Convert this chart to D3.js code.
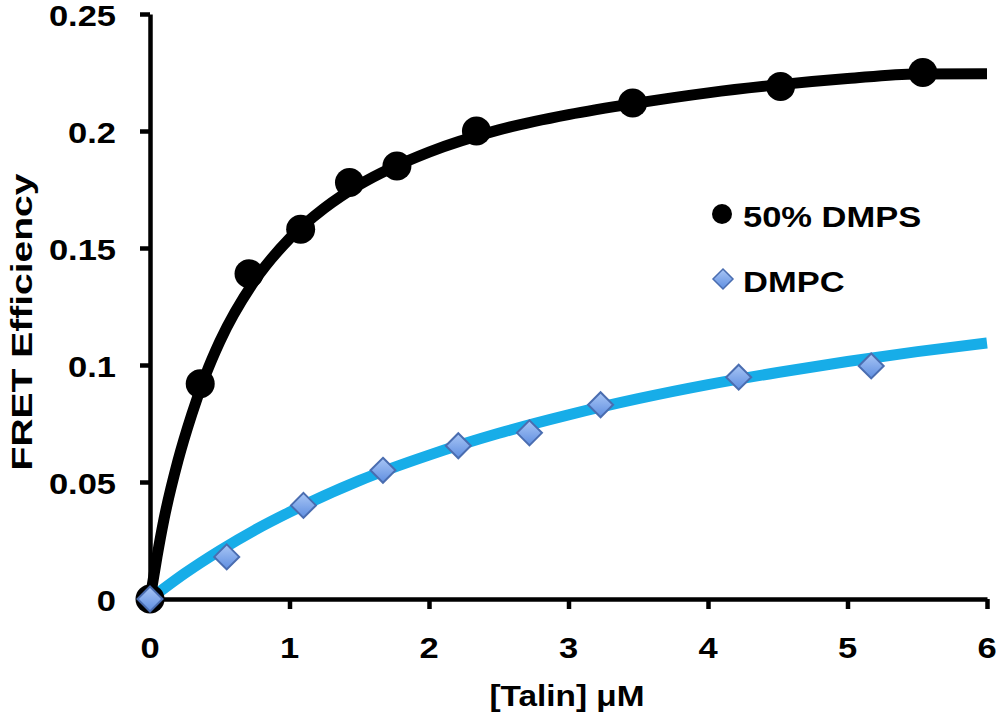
<!DOCTYPE html>
<html>
<head>
<meta charset="utf-8">
<script src="https://cdn.jsdelivr.net/npm/d3@7"></script>
<style>
  html, body { margin: 0; padding: 0; background: #fff; }
  svg { display: block; }
  text { font-family: "Liberation Sans", Arial, Helvetica, sans-serif; font-weight: bold; fill: #000; }
</style>
</head>
<body>
<svg id="chart" width="996" height="716"></svg>
<script>
// ---- data ----
const xTicks = [0, 1, 2, 3, 4, 5, 6];
const xTickLabels = ["0", "1", "2", "3", "4", "5", "6"];
const yTicks = [0, 0.05, 0.1, 0.15, 0.2, 0.25];
const yTickLabels = ["0", "0.05", "0.1", "0.15", "0.2", "0.25"];

// 50% DMPS measured points
const dmpsX = [0, 0.36, 0.71, 1.08, 1.43, 1.77, 2.34, 3.46, 4.52, 5.54];
const dmpsY = [0, 0.092, 0.139, 0.158, 0.178, 0.185, 0.200, 0.212, 0.219, 0.225];
// 50% DMPS fitted curve
const dmpsFitX = [0, 0.05, 0.1, 0.2, 0.3, 0.4, 0.5, 0.75, 1, 1.25, 1.5, 2, 2.5, 3, 3.5, 4, 4.5, 5, 5.5, 6];
const dmpsFitY = [0, 0.018, 0.034, 0.059, 0.079, 0.096, 0.110, 0.136, 0.154, 0.167, 0.177, 0.191, 0.2005, 0.207, 0.212, 0.2163, 0.2197, 0.2224, 0.2244, 0.2245];

// DMPC measured points
const dmpcX = [0, 0.55, 1.10, 1.67, 2.21, 2.72, 3.23, 4.22, 5.17];
const dmpcY = [0, 0.018, 0.040, 0.055, 0.0655, 0.071, 0.083, 0.0948, 0.0996];
// DMPC fitted curve
const dmpcFitX = [0, 0.25, 0.5, 0.75, 1, 1.5, 2, 2.5, 3, 3.5, 4, 4.5, 5, 5.5, 6];
const dmpcFitY = [0, 0.011, 0.0207, 0.0294, 0.0371, 0.0506, 0.0615, 0.0708, 0.0787, 0.0856, 0.0916, 0.0968, 0.1015, 0.1057, 0.1094];

const seriesNames = ["50% DMPS", "DMPC"];

// ---- drawing ----
const svg = d3.select("#chart");
const x = d3.scaleLinear().domain([0, 6]).range([150, 987]);
const y = d3.scaleLinear().domain([0, 0.25]).range([599, 14]);
const SX = 1.15; // horizontal stretch of the reference text

const defs = svg.append("defs");
const grad = defs.append("linearGradient").attr("id", "dgrad")
  .attr("x1", 0).attr("y1", 0).attr("x2", 0).attr("y2", 1);
grad.append("stop").attr("offset", "0%").attr("stop-color", "#a9c6f5");
grad.append("stop").attr("offset", "100%").attr("stop-color", "#5f8ee0");

const line = d3.line().x(d => x(d[0])).y(d => y(d[1])).curve(d3.curveMonotoneX);

// axes
const yAxis = d3.axisLeft(y).tickValues(yTicks).tickFormat(() => "").tickSize(10).tickSizeOuter(0);
const xAxis = d3.axisBottom(x).tickValues(xTicks).tickFormat(() => "").tickSize(10).tickSizeOuter(0);
const gy = svg.append("g").attr("transform", "translate(150,0)").call(yAxis);
const gx = svg.append("g").attr("transform", "translate(0,599)").call(xAxis);
[gy, gx].forEach(g => {
  g.select(".domain").attr("stroke", "#000").attr("stroke-width", 4.5);
  g.selectAll(".tick line").attr("stroke", "#000").attr("stroke-width", 4.5);
});
svg.append("line").attr("x1", 150).attr("x2", 150).attr("y1", y(0)).attr("y2", y(0) + 2)
  .attr("stroke", "#000").attr("stroke-width", 4.5);

function stretchedText(px, py, txt, anchor, size) {
  const g = svg.append("g").attr("transform", `translate(${px},${py}) scale(${SX},1)`);
  g.append("text").attr("text-anchor", anchor).attr("font-size", size).text(txt);
  return g;
}

// tick labels
yTicks.forEach((v, i) => stretchedText(116, y(v) + 12, yTickLabels[i], "end", 30));
xTicks.forEach((v, i) => stretchedText(x(v), 658, xTickLabels[i], "middle", 30));

// axis titles
stretchedText(567, 706, "[Talin] \u03BCM", "middle", 29);
svg.append("g").attr("transform", "translate(32,322) rotate(-90) scale(1.3,1)")
  .append("text").attr("text-anchor", "middle").attr("font-size", 30).text("FRET Efficiency");

// fitted curves
const dmpcFit = dmpcFitX.map((v, i) => [v, dmpcFitY[i]]);
const dmpsFit = dmpsFitX.map((v, i) => [v, dmpsFitY[i]]);
svg.append("path").datum(dmpcFit).attr("d", line)
  .attr("fill", "none").attr("stroke", "#17ade8").attr("stroke-width", 11).attr("stroke-linecap", "butt");
svg.append("path").datum(dmpsFit).attr("d", line)
  .attr("fill", "none").attr("stroke", "#000").attr("stroke-width", 11).attr("stroke-linecap", "butt");

// DMPS points
svg.append("g").selectAll("circle").data(dmpsX.map((v, i) => [v, dmpsY[i]])).join("circle")
  .attr("cx", d => x(d[0])).attr("cy", d => y(d[1])).attr("r", 14.5).attr("fill", "#000");

// DMPC points
const diamond = s => `M0,${-s}L${s},0L0,${s}L${-s},0Z`;
svg.append("g").selectAll("path").data(dmpcX.map((v, i) => [v, dmpcY[i]])).join("path")
  .attr("transform", d => `translate(${x(d[0])},${y(d[1])})`)
  .attr("d", diamond(12.5)).attr("fill", "url(#dgrad)").attr("stroke", "#4a6db0").attr("stroke-width", 2);

// legend
svg.append("circle").attr("cx", 722).attr("cy", 214).attr("r", 10).attr("fill", "#000");
stretchedText(743, 227, seriesNames[0], "start", 30);
svg.append("path").attr("transform", "translate(723,279)").attr("d", diamond(10))
  .attr("fill", "url(#dgrad)").attr("stroke", "#4a6db0").attr("stroke-width", 1.5);
stretchedText(743, 292, seriesNames[1], "start", 30);
</script>
</body>
</html>
